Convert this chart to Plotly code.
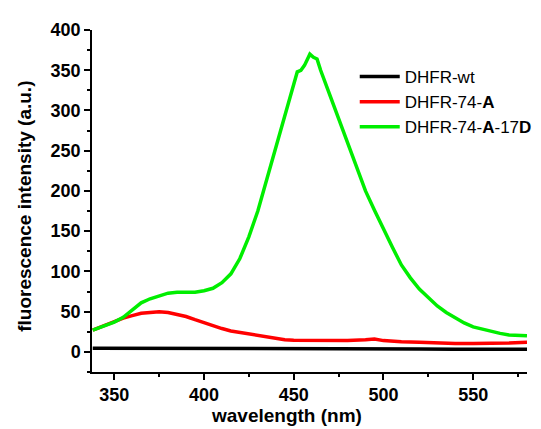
import plotly.graph_objects as go

# --- DATA ---
wl_green = [338, 345, 350, 355, 360, 365, 370, 375, 380, 385, 390, 395, 400, 405, 410,
            415, 420, 425, 430, 435, 440, 445, 450, 452, 454, 456, 459, 461, 463, 465,
            470, 475, 480, 485, 490, 495, 500, 505, 510, 515, 520, 525, 530, 535, 540,
            545, 550, 555, 560, 565, 570, 575, 580]
int_green = [27, 33, 37, 43, 52, 61, 66, 70, 73, 74, 74, 74, 76, 79, 86,
             97, 116, 143, 175, 215, 256, 294, 336, 348, 350, 356, 370, 366, 364, 350,
             320, 290, 258, 230, 200, 176, 152, 130, 108, 92, 78, 67, 57, 49, 42,
             36, 31, 28, 25, 23, 21, 20, 20]

wl_red = [338, 345, 350, 355, 360, 365, 370, 375, 380, 385, 390, 395, 400, 405, 410,
          415, 420, 425, 430, 435, 440, 445, 450, 460, 470, 480, 490, 495, 500, 505,
          510, 520, 530, 540, 550, 560, 570, 580]
int_red = [27, 33, 37, 42, 45, 48, 49, 50, 49, 47, 44, 40, 36, 32, 29,
           26, 24, 22, 20, 18, 16.5, 15, 14.5, 14, 14, 14, 15, 16, 14, 13,
           12.5, 12, 11, 10.5, 10.5, 10.5, 11, 12]

wl_black = [338, 360, 380, 400, 420, 440, 460, 480, 500, 520, 540, 560, 580]
int_black = [4.5, 4.5, 4.3, 4.4, 4.2, 4.0, 3.9, 3.8, 3.7, 3.6, 3.4, 3.3, 3.3]

x_ticks = [350, 400, 450, 500, 550]
y_ticks = [0, 50, 100, 150, 200, 250, 300, 350, 400]

SERIES = [
    ("DHFR-wt", wl_black, int_black, "#000000"),
    ("DHFR-74-<b>A</b>", wl_red, int_red, "#ff0000"),
    ("DHFR-74-<b>A</b>-17<b>D</b>", wl_green, int_green, "#00ee00"),
]

FONT = "Liberation Sans, Arial, sans-serif"

fig = go.Figure()
for name, x, y, color in SERIES:
    fig.add_trace(go.Scatter(x=x, y=y, mode="lines", name=name,
                             line=dict(color=color, width=3.5)))

axis_common = dict(
    showline=True, linecolor="black", linewidth=1.5, mirror=False,
    showgrid=False, zeroline=False, tickmode="array",
    ticks="outside", ticklen=6, tickwidth=1.5, tickcolor="black",
    tickfont=dict(family=FONT, size=18, color="black"),
)
minor_common = dict(ticks="outside", ticklen=3, tickwidth=1.5, tickcolor="black", showgrid=False)

fig.update_layout(
    width=541, height=429,
    margin=dict(l=84, r=22, t=14, b=65),
    paper_bgcolor="white", plot_bgcolor="white",
    font=dict(family=FONT, color="black"),
    xaxis=dict(range=[337.6, 580], tickvals=x_ticks,
               ticktext=[f"<b>{v}</b>" for v in x_ticks],
               minor=dict(minor_common, dtick=25, tick0=350), **axis_common),
    yaxis=dict(range=[-25, 400], tickvals=y_ticks,
               ticktext=[f"<b>{v}</b>" for v in y_ticks],
               minor=dict(minor_common, dtick=25, tick0=0), **axis_common),
    legend=dict(x=0.604, y=0.915, xanchor="left", yanchor="top",
                bgcolor="rgba(0,0,0,0)", borderwidth=0,
                font=dict(family=FONT, size=17, color="black"),
                tracegroupgap=0, itemwidth=40),
    showlegend=True,
    annotations=[
        dict(text="<b>wavelength (nm)</b>", xref="paper", yref="paper",
             x=0.448, y=-0.127, xanchor="center", yanchor="middle", showarrow=False,
             font=dict(family=FONT, size=19, color="black")),
        dict(text="<b>fluorescence intensity (a.u.)</b>", xref="paper", yref="paper",
             x=-0.154, y=0.483, xanchor="center", yanchor="middle", showarrow=False,
             textangle=-90, font=dict(family=FONT, size=19, color="black")),
    ],
)

fig.write_html("out.html")
